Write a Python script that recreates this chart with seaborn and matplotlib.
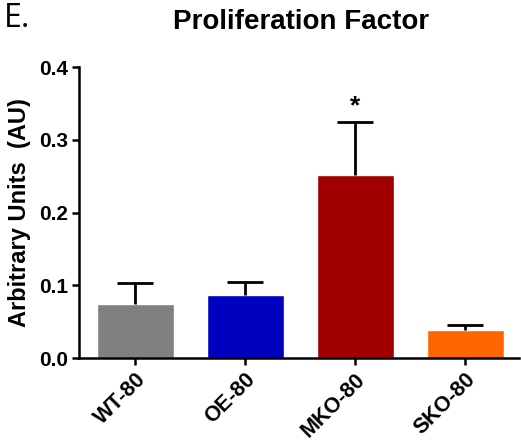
import seaborn as sns
import matplotlib.pyplot as plt
import pandas as pd

# Values
groups = ["WT-80", "OE-80", "MKO-80", "SKO-80"]
means = [0.074, 0.086, 0.252, 0.039]
sem = [0.029, 0.019, 0.072, 0.007]
bar_colors = ["#808080", "#0000C0", "#A00000", "#FF6600"]
y_ticks = [0.0, 0.1, 0.2, 0.3, 0.4]

sns.set_style("ticks")
plt.rcParams["font.family"] = ["Liberation Sans", "DejaVu Sans"]
for key in ["text.color", "axes.labelcolor", "xtick.color", "ytick.color",
            "axes.edgecolor"]:
    plt.rcParams[key] = "black"

df = pd.DataFrame({"group": groups, "value": means})

fig = plt.figure(figsize=(5.21, 4.45), dpi=100)
ax = fig.add_axes([0.152, 0.1955, 0.844, 0.6535])

sns.barplot(data=df, x="group", y="value", hue="group", palette=bar_colors,
            width=0.7, legend=False, errorbar=None, saturation=1, ax=ax)

# Only the upper half of the error bars, like GraphPad
eb = ax.errorbar(range(len(groups)), means, yerr=[[0] * len(sem), sem],
                 fmt="none", ecolor="black", elinewidth=2, capsize=13,
                 capthick=2, zorder=3)
eb[1][0].set_visible(False)  # drop the cap sitting on the bar top

# Significance star over MKO
ax.text(2, means[2] + sem[2] + 0.022, "*", ha="center", va="center",
        fontsize=19, fontweight="bold")

ax.set_xlim(-0.509, 3.49)
ax.set_ylim(0, 0.4)
ax.set_yticks(y_ticks)
ax.set_yticklabels([f"{t:.1f}" for t in y_ticks], fontsize=15,
                   fontweight="bold")
ax.set_xticks(range(len(groups)))
ax.set_xticklabels(groups, rotation=45, ha="right", rotation_mode="anchor",
                   fontsize=15.5, fontweight="bold")
ax.set_xlabel("")
ax.set_ylabel("Arbitrary Units  (AU)", fontsize=17, fontweight="bold",
              labelpad=6)

sns.despine(ax=ax)
for side in ["left", "bottom"]:
    ax.spines[side].set_linewidth(1.8)
ax.tick_params(width=1.8, length=5, direction="out", pad=3)

fig.text(0.578, 0.95, "Proliferation Factor", ha="center", va="center",
         fontsize=20, fontweight="bold")
fig.text(0.008, 0.958, "E.", ha="left", va="center", fontsize=23,
         family=["Open Sans", "DejaVu Sans"])

fig.savefig("out.png", dpi=100)
